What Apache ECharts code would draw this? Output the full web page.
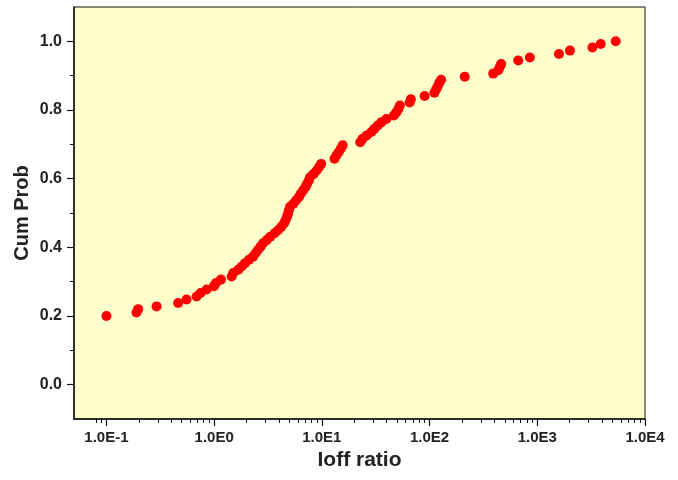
<!DOCTYPE html>
<html>
<head>
<meta charset="utf-8">
<title>Cum Prob vs Ioff ratio</title>
<script src="https://cdn.jsdelivr.net/npm/echarts@6/dist/echarts.min.js"></script>
<style>
  html, body { margin: 0; padding: 0; background: #fff; }
  #chart { width: 678px; height: 480px; }
</style>
</head>
<body>
<div id="chart"></div>
<script>
// 数据：Ioff ratio (x, 对数轴) 与累积概率 (y)
var ioffRatio = [
  0.1, 0.19, 0.197, 0.292, 0.463, 0.554, 0.687, 0.748, 0.851, 0.995,
  1.04, 1.157, 1.455, 1.506, 1.676, 1.803, 1.935, 2.11, 2.30, 2.42,
  2.55, 2.70, 2.84, 3.08, 3.32, 3.64, 3.92, 4.21, 4.46, 4.60,
  4.74, 4.86, 4.94, 5.07, 5.44, 5.77, 6.15, 6.37, 6.70, 7.07,
  7.30, 7.57, 7.77, 8.39, 8.95, 9.40, 9.85, 13.1, 13.7, 14.3,
  15.0, 15.6, 22.7, 23.9, 26.1, 28.8, 30.7, 33.0, 35.6, 39.7,
  46.6, 49.1, 51.3, 53.0, 65.3, 67.0, 90.0, 111, 115, 119,
  123, 128, 212, 390, 435, 448, 462, 665, 853, 1590,
  2010, 3250, 3880, 5350
]
var cumProb = [
  0.200, 0.210, 0.220, 0.228, 0.238, 0.248, 0.257, 0.267, 0.277, 0.287,
  0.296, 0.306, 0.315, 0.325, 0.335, 0.344, 0.354, 0.364, 0.373, 0.383,
  0.392, 0.402, 0.412, 0.421, 0.431, 0.441, 0.450, 0.460, 0.470, 0.479,
  0.489, 0.498, 0.508, 0.518, 0.527, 0.537, 0.547, 0.556, 0.566, 0.576,
  0.585, 0.595, 0.604, 0.614, 0.624, 0.633, 0.643, 0.658, 0.668, 0.677,
  0.687, 0.697, 0.706, 0.716, 0.726, 0.736, 0.745, 0.755, 0.764, 0.774,
  0.784, 0.793, 0.803, 0.813, 0.822, 0.831, 0.841, 0.850, 0.860, 0.869,
  0.879, 0.888, 0.897, 0.906, 0.916, 0.925, 0.934, 0.944, 0.953, 0.963,
  0.973, 0.982, 0.992, 1.000
]

// 刻度
var xMajorTicks = [0.1, 1, 10, 100, 1000, 10000]
var xMinorTicks = [
  0.08, 0.09,
  0.2, 0.3, 0.4, 0.5, 0.6, 0.7, 0.8, 0.9,
  2, 3, 4, 5, 6, 7, 8, 9,
  20, 30, 40, 50, 60, 70, 80, 90,
  200, 300, 400, 500, 600, 700, 800, 900,
  2000, 3000, 4000, 5000, 6000, 7000, 8000, 9000
]
var yMajorTicks = [0, 0.2, 0.4, 0.6, 0.8, 1.0]
var yMinorTicks = [0.1, 0.3, 0.5, 0.7, 0.9]

var points = ioffRatio.map(function (x, i) { return [x, cumProb[i]] })

var textColor = '#222'
var font = 'Liberation Sans, Arial, sans-serif'

var option = {
  animation: false,
  backgroundColor: '#fff',
  grid: {
    left: 74,
    right: 33,
    top: 7,
    bottom: 61,
    show: true,
    backgroundColor: '#ffffcc',
    borderColor: '#111',
    borderWidth: 1,
    containLabel: false,
    outerBoundsMode: 'none'
  },
  xAxis: [
    {
      type: 'log',
      logBase: 10,
      min: 0.05,
      max: 10000,
      name: 'Ioff ratio',
      nameLocation: 'middle',
      nameGap: 30,
      nameTextStyle: { color: textColor, fontSize: 21, fontWeight: 'bold', fontFamily: font },
      axisLine: { show: true, onZero: false, lineStyle: { color: '#111', width: 1.5 } },
      axisTick: { show: true, customValues: xMajorTicks, length: 7, lineStyle: { color: '#111', width: 1.2 } },
      axisLabel: {
        customValues: xMajorTicks,
        margin: 11,
        color: textColor,
        fontSize: 15,
        fontWeight: 'bold',
        fontFamily: font,
        formatter: function (v) {
          return '1.0E' + Math.round(Math.log10(v))
        }
      },
      splitLine: { show: false }
    },
    {
      // 只画次刻度
      type: 'log',
      logBase: 10,
      min: 0.05,
      max: 10000,
      position: 'bottom',
      offset: 0,
      axisLine: { show: false, onZero: false },
      axisTick: { show: true, customValues: xMinorTicks, length: 4, lineStyle: { color: '#111', width: 1 } },
      axisLabel: { show: false },
      splitLine: { show: false }
    }
  ],
  yAxis: [
    {
      type: 'value',
      min: -0.1,
      max: 1.1,
      name: 'Cum Prob',
      nameLocation: 'middle',
      nameGap: 42,
      nameMoveOverlap: false,
      nameTextStyle: { color: textColor, fontSize: 20, fontWeight: 'bold', fontFamily: font },
      axisLine: { show: true, onZero: false, lineStyle: { color: '#111', width: 1.5 } },
      axisTick: { show: true, customValues: yMajorTicks, length: 7, lineStyle: { color: '#111', width: 1.2 } },
      axisLabel: {
        customValues: yMajorTicks,
        margin: 12,
        color: textColor,
        fontSize: 16,
        fontWeight: 'bold',
        fontFamily: font,
        formatter: function (v) { return v.toFixed(1) }
      },
      splitLine: { show: false }
    },
    {
      type: 'value',
      min: -0.1,
      max: 1.1,
      position: 'left',
      offset: 0,
      axisLine: { show: false, onZero: false },
      axisTick: { show: true, customValues: yMinorTicks, length: 4, lineStyle: { color: '#111', width: 1 } },
      axisLabel: { show: false },
      splitLine: { show: false }
    }
  ],
  series: [
    {
      type: 'scatter',
      xAxisIndex: 0,
      yAxisIndex: 0,
      data: points,
      symbol: 'circle',
      symbolSize: 10,
      itemStyle: { color: '#ff0000', opacity: 1 }
    }
  ]
}

var chart = echarts.init(document.getElementById('chart'))
chart.setOption(option)
</script>
</body>
</html>
